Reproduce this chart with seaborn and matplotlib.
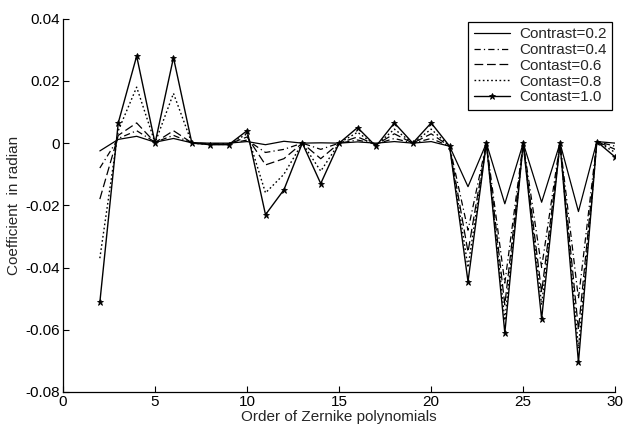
import matplotlib
matplotlib.use("Agg")
import matplotlib.pyplot as plt
import seaborn as sns
import pandas as pd

# Zernike order index
orders = list(range(2, 31))

c02 = [-0.0025, 0.0012, 0.0022, 0.0003, 0.0015, 0.0001, 0.0, 0.0, 0.0005, -0.0005,
       0.0006, 0.0, 0.0001, 0.0, 0.0004, 0.0, 0.0005, 0.0, 0.0005, -0.001,
       -0.014, 0.0, -0.0195, 0.0, -0.019, 0.0, -0.022, 0.0005, 0.0]
c04 = [-0.008, 0.0015, 0.004, 0.0003, 0.0025, 0.0001, -0.0002, -0.0002, 0.001, -0.003,
       -0.002, 0.0, -0.002, 0.0, 0.001, -0.0003, 0.0015, 0.0, 0.0015, -0.001,
       -0.028, 0.0, -0.045, 0.0, -0.040, 0.0, -0.050, 0.0005, -0.001]
c06 = [-0.018, 0.0025, 0.0065, 0.0002, 0.004, 0.0001, -0.0003, -0.0003, 0.002, -0.007,
       -0.005, 0.0, -0.005, 0.0, 0.002, -0.0005, 0.003, 0.0, 0.003, -0.001,
       -0.035, 0.0, -0.052, 0.0, -0.048, 0.0, -0.060, 0.0005, -0.002]
c08 = [-0.037, 0.004, 0.018, 0.0001, 0.016, 0.0, -0.0004, -0.0004, 0.003, -0.016,
       -0.010, 0.0, -0.009, 0.0, 0.0035, -0.0008, 0.0045, 0.0, 0.0045, -0.001,
       -0.040, 0.0, -0.057, 0.0, -0.052, 0.0, -0.066, 0.0005, -0.003]
c10 = [-0.0512, 0.0065, 0.028, 0.0, 0.0275, 0.0, -0.0005, -0.0005, 0.004, -0.023,
       -0.015, 0.0, -0.013, 0.0, 0.005, -0.001, 0.0065, 0.0, 0.0065, -0.001,
       -0.0445, 0.0, -0.061, 0.0, -0.0565, 0.0, -0.0705, 0.0005, -0.0045]

labels = ["Contrast=0.2", "Contrast=0.4", "Contast=0.6", "Contast=0.8", "Contast=1.0"]
series = [c02, c04, c06, c08, c10]
x_ticks = [0, 5, 10, 15, 20, 25, 30]
y_ticks = [-0.08, -0.06, -0.04, -0.02, 0, 0.02, 0.04]
y_tick_labels = ["-0.08", "-0.06", "-0.04", "-0.02", "0", "0.02", "0.04"]

sns.set_theme(style="white")
plt.rcParams["font.family"] = ["Liberation Sans", "DejaVu Sans"]

fig = plt.figure(figsize=(6.24, 4.26), dpi=100)
ax = fig.add_axes([0.101, 0.080, 0.885, 0.876])

styles = [
    dict(linestyle="-", linewidth=0.9),
    dict(linestyle=(0, (5, 2.5, 1, 2.5)), linewidth=0.9),
    dict(linestyle=(0, (7, 3)), linewidth=0.9),
    dict(linestyle=(0, (1.2, 1.8)), linewidth=1.0),
    dict(linestyle="-", linewidth=1.0, marker="*", markersize=5,
         markeredgewidth=0.6, markerfacecolor="black", markeredgecolor="black"),
]

for vals, lab, st in zip(series, labels, styles):
    df = pd.DataFrame({"order": orders, "coef": vals})
    sns.lineplot(data=df, x="order", y="coef", ax=ax, color="black",
                 label=lab, **st)

ax.set_xlim(0, 30)
ax.set_ylim(-0.08, 0.04)
ax.set_xticks(x_ticks)
ax.set_yticks(y_ticks)
ax.set_yticklabels(y_tick_labels)
ax.tick_params(direction="in", length=4, width=0.8, colors="black",
               labelsize=11, pad=2, bottom=True, left=True)

for side in ("top", "right"):
    ax.spines[side].set_visible(False)
for side in ("left", "bottom"):
    ax.spines[side].set_color("black")
    ax.spines[side].set_linewidth(0.9)

ax.set_xlabel("Order of Zernike polynomials", fontsize=11, labelpad=1)
ax.set_ylabel("Coefficient  in radian", fontsize=11, labelpad=3)

leg = ax.legend(loc="upper right", fontsize=11, frameon=True, fancybox=False,
                edgecolor="black", framealpha=1, handlelength=2.4,
                borderpad=0.35, labelspacing=0.12, handletextpad=0.6,
                borderaxespad=0.2)
leg.get_frame().set_linewidth(0.9)

fig.savefig("out.png", dpi=100)
